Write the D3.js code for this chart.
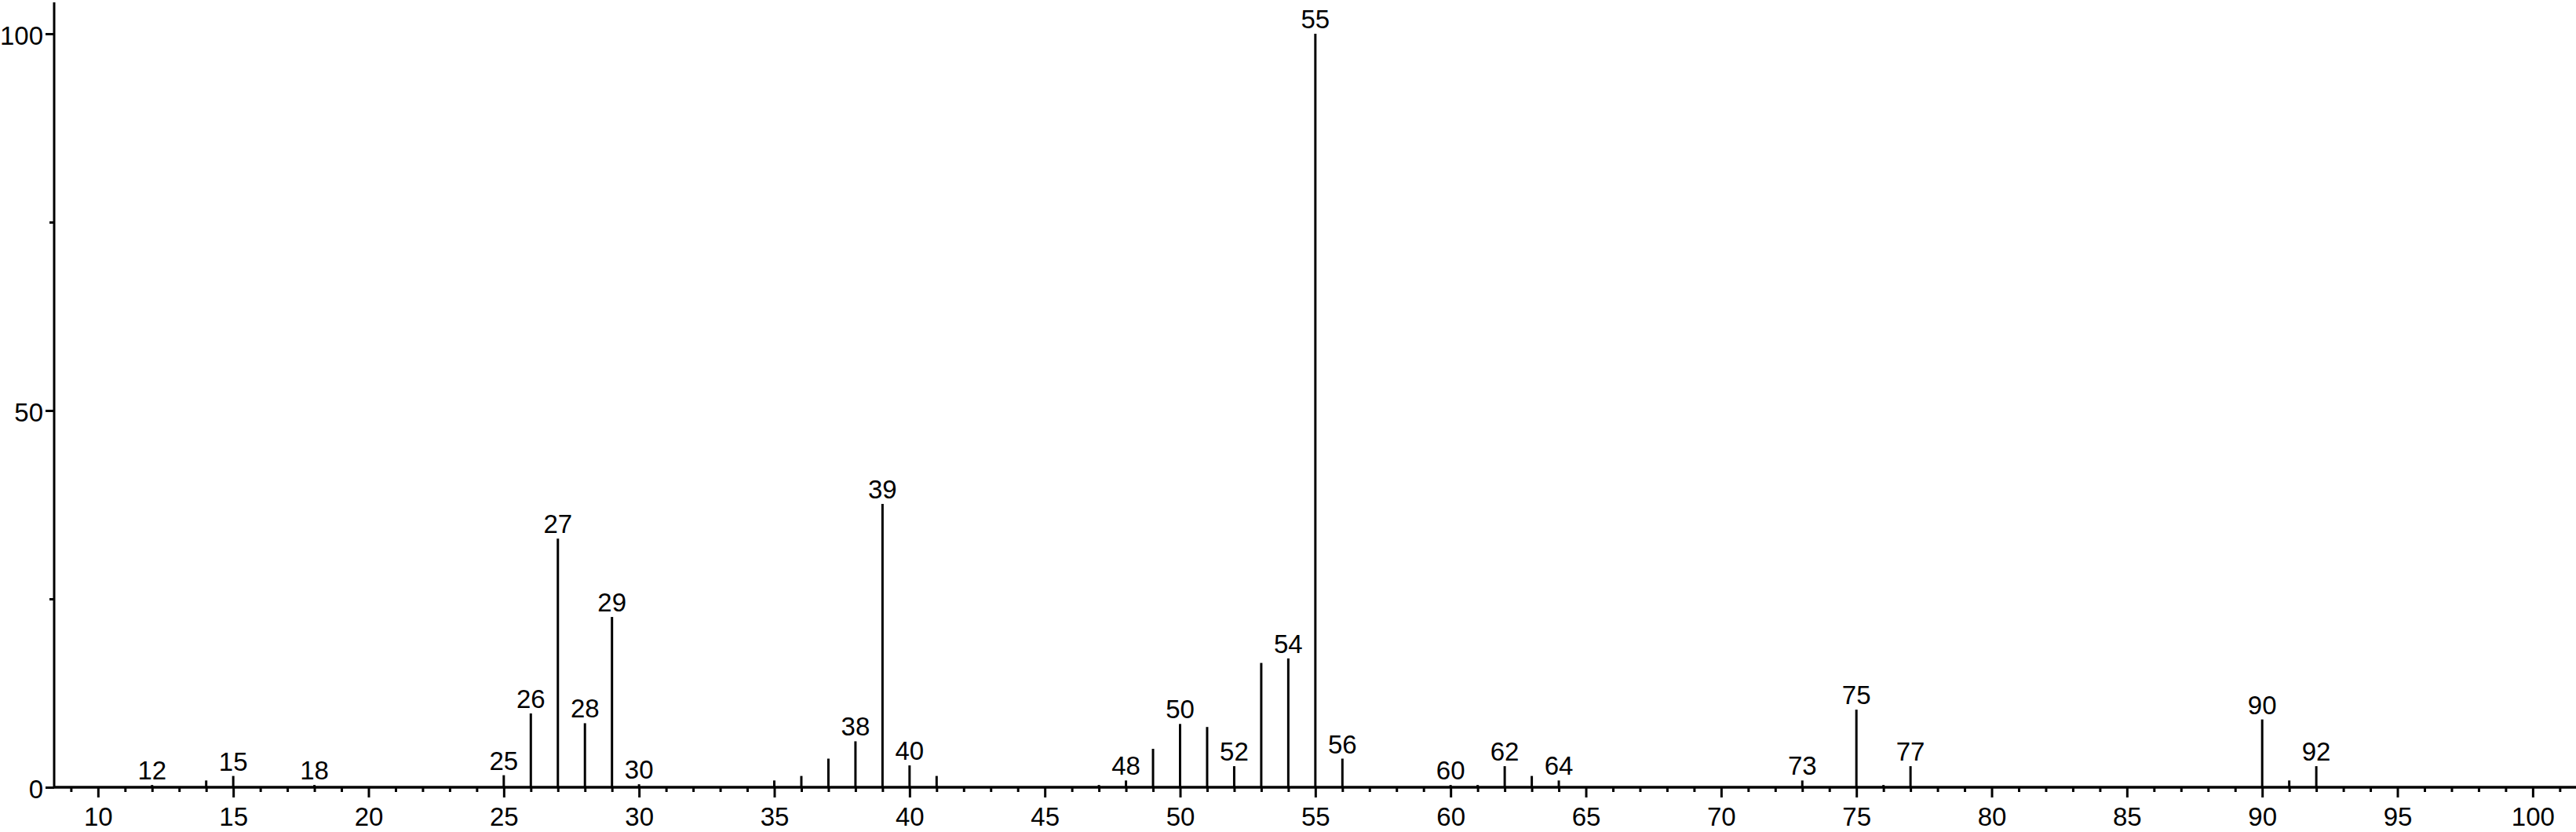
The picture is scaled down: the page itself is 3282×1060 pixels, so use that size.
<!DOCTYPE html>
<html>
<head>
<meta charset="utf-8">
<script src="https://cdn.jsdelivr.net/npm/d3@7"></script>
<style>
  body { margin: 0; background: #fff; }
  svg { display: block; }
  text { font-family: "Liberation Sans", Arial, Helvetica, sans-serif; fill: #000; }
</style>
</head>
<body>
<svg id="chart" width="3282" height="1060"></svg>
<script>
// m/z values and relative intensities (%)
const masses = [12, 14, 15, 18, 25, 26, 27, 28, 29, 30, 35, 36, 37, 38, 39, 40, 41,
  47, 48, 49, 50, 51, 52, 53, 54, 55, 56, 60, 61, 62, 63, 64, 73, 75, 76, 77, 90, 91, 92]
const intensities = [0.3, 0.9, 1.5, 0.3, 1.6, 9.8, 33.0, 8.5, 22.6, 0.4, 0.9, 1.5, 3.8, 6.1, 37.6, 2.9, 1.5,
  0.3, 0.9, 5.1, 8.4, 8.0, 2.8, 16.5, 17.1, 100, 3.8, 0.3, 0.3, 2.8, 1.5, 0.9, 0.9, 10.3, 0.3, 2.8, 9.0, 0.9, 2.8]
// peaks that carry a label
const labeled = [12, 15, 18, 25, 26, 27, 28, 29, 30, 38, 39, 40, 48, 50, 52, 54, 55, 56,
  60, 62, 64, 73, 75, 77, 90, 92]

const xMajor = d3.range(10, 101, 5)
const xMinor = d3.range(9, 102, 1).filter(d => d % 5 !== 0)
const yMajor = [0, 50, 100]
const yMinor = [25, 75]

const fontSize = 33

const svg = d3.select('#chart')
const width = +svg.attr('width')

const x = d3.scaleLinear().domain([8.38, 101.6]).range([69, width])
const y = d3.scaleLinear().domain([0, 104.17]).range([1003, 3])

const peaks = masses.map((m, i) => ({ mz: m, value: intensities[i] }))

// x axis, minor ticks then major ticks with labels
const gx = svg.append('g').attr('transform', `translate(0,${y(0)})`)
gx.append('g')
  .call(d3.axisBottom(x).tickValues(xMinor).tickSize(6).tickFormat(''))
  .call(g => g.select('.domain').remove())
gx.append('g')
  .call(d3.axisBottom(x).tickValues(xMajor).tickSize(13).tickPadding(13).tickFormat(d3.format('d')))
  .call(g => g.select('.domain').remove())
  .call(g => g.selectAll('text').attr('font-size', fontSize).attr('font-family', null))
gx.selectAll('.tick line').attr('stroke', '#000').attr('stroke-width', 3)

// y axis
const gy = svg.append('g').attr('transform', `translate(${x.range()[0]},0)`)
gy.append('g')
  .call(d3.axisLeft(y).tickValues(yMinor).tickSize(6).tickFormat(''))
  .call(g => g.select('.domain').remove())
gy.append('g')
  .call(d3.axisLeft(y).tickValues(yMajor).tickSize(11).tickPadding(3).tickFormat(d3.format('d')))
  .call(g => g.select('.domain').remove())
  .call(g => g.selectAll('text').attr('font-size', fontSize).attr('font-family', null).attr('dy', '0.42em'))
gy.selectAll('.tick line').attr('stroke', '#000').attr('stroke-width', 3)

// axis lines
svg.append('line')
  .attr('x1', x.range()[0]).attr('x2', x.range()[1])
  .attr('y1', y(0)).attr('y2', y(0))
  .attr('stroke', '#000').attr('stroke-width', 3.5)
svg.append('line')
  .attr('x1', x.range()[0]).attr('x2', x.range()[0])
  .attr('y1', y.range()[1]).attr('y2', y(0))
  .attr('stroke', '#000').attr('stroke-width', 3)

// peaks
svg.append('g').selectAll('line')
  .data(peaks)
  .join('line')
  .attr('x1', d => x(d.mz)).attr('x2', d => x(d.mz))
  .attr('y1', y(0)).attr('y2', d => y(d.value))
  .attr('stroke', '#000').attr('stroke-width', 3)

// peak labels
svg.append('g').selectAll('text')
  .data(peaks.filter(d => labeled.includes(d.mz)))
  .join('text')
  .attr('x', d => x(d.mz))
  .attr('y', d => y(d.value) - 7)
  .attr('text-anchor', 'middle')
  .attr('font-size', fontSize)
  .text(d => d.mz)
</script>
</body>
</html>
